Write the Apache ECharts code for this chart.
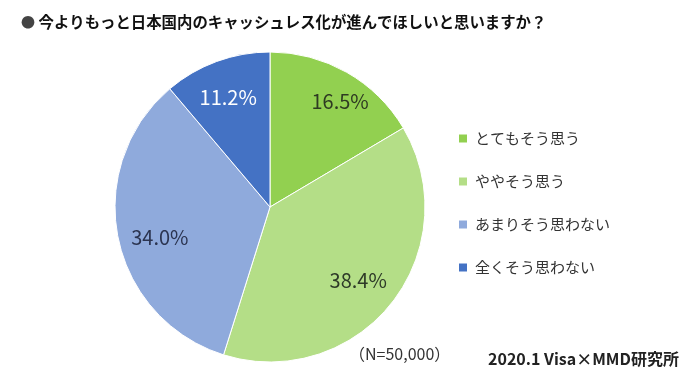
<!DOCTYPE html>
<html><head><meta charset="utf-8">
<script src="https://cdn.jsdelivr.net/npm/echarts@6/dist/echarts.min.js"></script>
<style>html,body{margin:0;padding:0;background:#fff}#c{width:700px;height:383px}</style>
</head><body><div id="c"></div>
<script>
const categories = ['とてもそう思う', 'ややそう思う', 'あまりそう思わない', '全くそう思わない'];
const values = [16.5, 38.4, 34.0, 11.2];
const colors = ['#92D050', '#B4DE87', '#8FAADC', '#4472C4'];
const labelColors = ['#2e3a22', '#2e3a28', '#2b3450', '#ffffff'];
const labelOffsets = [[10, 0], [-7, -2], [9, 6], [0, 4]];
const titleText = '今よりもっと日本国内のキャッシュレス化が進んでほしいと思いますか？';
const noteText = '（N=50,000）';
const sourceText = '2020.1 Visa×MMD研究所';

const FONT = '"Noto Sans CJK JP", sans-serif';
const chart = echarts.init(document.getElementById('c'));
const data = categories.map((n, i) => ({name: n, value: values[i], itemStyle: {color: colors[i]}}));
chart.setOption({
  animation: false,
  textStyle: {fontFamily: FONT},
  title: [
    {text: '{b|●} ' + titleText, left: 16, top: 9,
     textStyle: {fontFamily: FONT, fontSize: 15.4, fontWeight: 'bold', color: '#111',
       rich: {b: {fontSize: 14, color: '#444', fontFamily: FONT}}}},
    {text: noteText, left: 344, top: 341, textStyle: {fontFamily: FONT, fontSize: 16, fontWeight: 'normal', color: '#333'}},
    {text: sourceText, left: 483, top: 346, textStyle: {fontFamily: FONT, fontSize: 16, fontWeight: 'bold', color: '#222'}}
  ],
  legend: {
    orient: 'vertical', left: 452, top: 126, itemWidth: 10, itemHeight: 10, itemGap: 28,
    icon: 'rect', data: categories,
    textStyle: {fontFamily: FONT, fontSize: 15, color: '#333', padding: [0,0,0,2]}
  },
  series: [
    {type: 'pie', center: [270, 207], radius: [0, 155], startAngle: 90, clockwise: true,
     label: {show: false}, labelLine: {show: false},
     itemStyle: {borderColor: '#fff', borderWidth: 1},
     emphasis: {disabled: true}, silent: true, data: data},
    {type: 'pie', center: [270, 207], radius: [82, 155], startAngle: 90, clockwise: true,
     silent: true, emphasis: {disabled: true}, legendHoverLink: false,
     itemStyle: {color: 'transparent', borderWidth: 0},
     label: {show: true, position: 'inside', fontFamily: FONT, fontSize: 20,
       formatter: p => p.value.toFixed(1) + '%'},
     labelLine: {show: false},
     data: categories.map((n, i) => ({name: n + ' ', value: values[i],
       itemStyle: {color: 'transparent'},
       label: {color: labelColors[i], offset: labelOffsets[i]}}))}
  ]
});
</script></body></html>
